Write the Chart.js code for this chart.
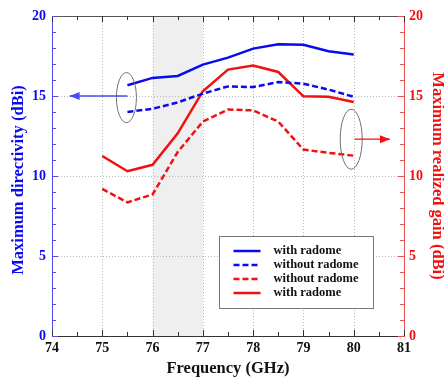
<!DOCTYPE html>
<html lang="en">
<head>
    <meta charset="UTF-8">
    <title>Directivity and realized gain</title>
    <style>
        body, html {
            margin: 0;
            padding: 0;
            background: #fff;
        }
        .chart-container {
            width: 444px;
            height: 378px;
        }
    </style>
    <script src="https://cdn.jsdelivr.net/npm/chart.js"></script>
</head>
<body>
    <div class="chart-container">
        <canvas id="gainChart"></canvas>
    </div>

    <script>
        // frequencies (GHz)
        const freqBlue = [75.5, 76, 76.5, 77, 77.5, 78, 78.5, 79, 79.5, 80];
        const freqRed = [75, 75.5, 76, 76.5, 77, 77.5, 78, 78.5, 79, 79.5, 80];

        // maximum directivity (dBi), left axis
        const dirWithRadome = [15.67, 16.13, 16.25, 16.96, 17.4, 17.96, 18.23, 18.2, 17.8, 17.6];
        const dirWithoutRadome = [14.0, 14.2, 14.6, 15.15, 15.6, 15.56, 15.87, 15.77, 15.4, 14.95];

        // maximum realized gain (dBi), right axis
        const gainWithoutRadome = [9.19, 8.35, 8.85, 11.5, 13.4, 14.15, 14.1, 13.4, 11.65, 11.45, 11.27];
        const gainWithRadome = [11.25, 10.3, 10.7, 12.67, 15.3, 16.65, 16.9, 16.5, 14.98, 14.95, 14.63];

        const xTicks = [74, 75, 76, 77, 78, 79, 80, 81];
        const yTicks = [0, 5, 10, 15, 20];
        const bandRange = [76, 77];

        const BLUE = '#0a0af0';
        const RED = '#f01010';
        const FONT = 'Liberation Serif';

        const pts = (xs, ys) => xs.map((x, i) => ({ x: x, y: ys[i] }));

        const decorPlugin = {
            id: 'decor',
            beforeDatasetsDraw(chart) {
                const { ctx, chartArea: a, scales } = chart;
                const x = scales.x, y = scales.y;
                ctx.save();
                // shaded band
                ctx.fillStyle = '#efefef';
                ctx.fillRect(x.getPixelForValue(bandRange[0]), a.top,
                    x.getPixelForValue(bandRange[1]) - x.getPixelForValue(bandRange[0]), a.bottom - a.top);
                // dotted grid
                ctx.strokeStyle = '#b8b8b8';
                ctx.lineWidth = 1;
                ctx.setLineDash([1, 2]);
                xTicks.slice(1, -1).forEach(v => {
                    const px = Math.round(x.getPixelForValue(v)) + 0.5;
                    ctx.beginPath(); ctx.moveTo(px, a.top); ctx.lineTo(px, a.bottom); ctx.stroke();
                });
                yTicks.slice(1, -1).forEach(v => {
                    const py = Math.round(y.getPixelForValue(v)) + 0.5;
                    ctx.beginPath(); ctx.moveTo(a.left, py); ctx.lineTo(a.right, py); ctx.stroke();
                });
                ctx.setLineDash([]);
                // top border
                ctx.strokeStyle = '#555';
                ctx.beginPath(); ctx.moveTo(a.left, a.top + 0.5); ctx.lineTo(a.right, a.top + 0.5); ctx.stroke();
                // x ticks (bottom and top), inward
                for (let v = xTicks[0]; v <= xTicks[xTicks.length - 1] + 1e-6; v += 0.5) {
                    const px = Math.round(x.getPixelForValue(v)) + 0.5;
                    const len = Number.isInteger(v) ? 6 : 4;
                    ctx.strokeStyle = '#333';
                    ctx.beginPath(); ctx.moveTo(px, a.bottom); ctx.lineTo(px, a.bottom - len); ctx.stroke();
                    ctx.beginPath(); ctx.moveTo(px, a.top); ctx.lineTo(px, a.top + len); ctx.stroke();
                }
                // y ticks, inward
                for (let v = 0; v <= 20; v += 1) {
                    const py = Math.round(y.getPixelForValue(v)) + 0.5;
                    const len = v % 5 === 0 ? 6 : 4;
                    ctx.strokeStyle = '#5050e8';
                    ctx.beginPath(); ctx.moveTo(a.left, py); ctx.lineTo(a.left + len, py); ctx.stroke();
                    ctx.strokeStyle = '#e85050';
                    ctx.beginPath(); ctx.moveTo(a.right, py); ctx.lineTo(a.right - len, py); ctx.stroke();
                }
                ctx.restore();
            },
            afterDatasetsDraw(chart) {
                const { ctx, chartArea: a, scales } = chart;
                const x = scales.x, y = scales.y, y1 = scales.y1;
                ctx.save();
                // ellipses
                ctx.strokeStyle = '#707070';
                ctx.lineWidth = 1;
                ctx.beginPath();
                ctx.ellipse(x.getPixelForValue(75.48), y.getPixelForValue(14.9), 10, 25, 0, 0, Math.PI * 2);
                ctx.stroke();
                ctx.beginPath();
                ctx.ellipse(x.getPixelForValue(79.95), y1.getPixelForValue(12.3), 11, 30, 0, 0, Math.PI * 2);
                ctx.stroke();
                // arrows
                const arrow = (x0, x1, py, color) => {
                    ctx.strokeStyle = color; ctx.fillStyle = color; ctx.lineWidth = 1.3;
                    ctx.beginPath(); ctx.moveTo(x0, py); ctx.lineTo(x1, py); ctx.stroke();
                    const d = Math.sign(x1 - x0);
                    ctx.beginPath();
                    ctx.moveTo(x1, py); ctx.lineTo(x1 - d * 10, py - 4); ctx.lineTo(x1 - d * 10, py + 4);
                    ctx.closePath(); ctx.fill();
                };
                arrow(x.getPixelForValue(75.5), x.getPixelForValue(74.35), y.getPixelForValue(15), '#4a4af0');
                arrow(x.getPixelForValue(80.02), x.getPixelForValue(80.72), y1.getPixelForValue(12.3), RED);

                // legend box
                const lx = 219.5, ly = 236.5, lw = 154, lh = 72;
                ctx.fillStyle = '#fff';
                ctx.fillRect(lx, ly, lw, lh);
                ctx.strokeStyle = '#777';
                ctx.lineWidth = 1;
                ctx.strokeRect(lx, ly, lw, lh);
                ctx.font = 'bold 12.5px "' + FONT + '"';
                ctx.textBaseline = 'middle';
                chart.data.datasets.forEach((ds, i) => {
                    const ry = ly + 14.5 + i * 14;
                    ctx.strokeStyle = ds.borderColor;
                    ctx.lineWidth = 2.5;
                    ctx.setLineDash(ds.borderDash || []);
                    ctx.beginPath(); ctx.moveTo(lx + 14, ry); ctx.lineTo(lx + 41, ry); ctx.stroke();
                    ctx.setLineDash([]);
                    ctx.fillStyle = '#111';
                    ctx.fillText(ds.label, lx + 54, ry);
                });

                // axis titles
                ctx.font = 'bold 16.5px "' + FONT + '"';
                ctx.textAlign = 'center';
                ctx.fillStyle = '#111';
                ctx.fillText('Frequency (GHz)', (a.left + a.right) / 2, 369);
                ctx.save();
                ctx.translate(19, (a.top + a.bottom) / 2 + 4);
                ctx.rotate(-Math.PI / 2);
                ctx.fillStyle = BLUE;
                ctx.fillText('Maximum directivity (dBi)', 0, 0);
                ctx.restore();
                ctx.save();
                ctx.translate(437, (a.top + a.bottom) / 2);
                ctx.rotate(Math.PI / 2);
                ctx.fillStyle = RED;
                ctx.fillText('Maximum realized gain (dBi)', 0, 0);
                ctx.restore();
                ctx.restore();
            }
        };

        const data = {
            datasets: [
                { label: 'with radome', data: pts(freqBlue, dirWithRadome), yAxisID: 'y',
                  borderColor: BLUE, borderWidth: 2.5 },
                { label: 'without radome', data: pts(freqBlue, dirWithoutRadome), yAxisID: 'y',
                  borderColor: BLUE, borderWidth: 2.5, borderDash: [6, 3] },
                { label: 'without radome', data: pts(freqRed, gainWithoutRadome), yAxisID: 'y1',
                  borderColor: RED, borderWidth: 2.5, borderDash: [6, 3] },
                { label: 'with radome', data: pts(freqRed, gainWithRadome), yAxisID: 'y1',
                  borderColor: RED, borderWidth: 2.5 }
            ]
        };

        const tickFont = { family: FONT, size: 14, weight: 'bold' };

        const options = {
            responsive: false,
            animation: false,
            layout: { padding: { top: 16, left: 0, right: 0, bottom: 0 } },
            elements: { point: { radius: 0 }, line: { tension: 0, fill: false } },
            plugins: { legend: { display: false }, tooltip: { enabled: false } },
            scales: {
                x: {
                    type: 'linear', min: 74, max: 81,
                    afterBuildTicks: s => { s.ticks = xTicks.map(v => ({ value: v })); },
                    afterFit: s => { s.height = 42; },
                    ticks: { font: tickFont, color: '#111', padding: 4 },
                    grid: { display: false, drawTicks: false, tickLength: 0 },
                    border: { color: '#333', width: 1 }
                },
                y: {
                    position: 'left', min: 0, max: 20,
                    afterBuildTicks: s => { s.ticks = yTicks.map(v => ({ value: v })); },
                    afterFit: s => { s.width = 52; },
                    ticks: { font: tickFont, color: BLUE, padding: 6 },
                    grid: { display: false, drawTicks: false, tickLength: 0 },
                    border: { color: '#5050e8', width: 1 }
                },
                y1: {
                    position: 'right', min: 0, max: 20,
                    afterBuildTicks: s => { s.ticks = yTicks.map(v => ({ value: v })); },
                    afterFit: s => { s.width = 40; },
                    ticks: { font: tickFont, color: RED, padding: 5 },
                    grid: { display: false, drawTicks: false, tickLength: 0 },
                    border: { color: '#e85050', width: 1 }
                }
            }
        };

        const canvas = document.getElementById('gainChart');
        canvas.width = 444;
        canvas.height = 378;
        new Chart(canvas.getContext('2d'), {
            type: 'line',
            data: data,
            options: options,
            plugins: [decorPlugin]
        });
    </script>
</body>
</html>
